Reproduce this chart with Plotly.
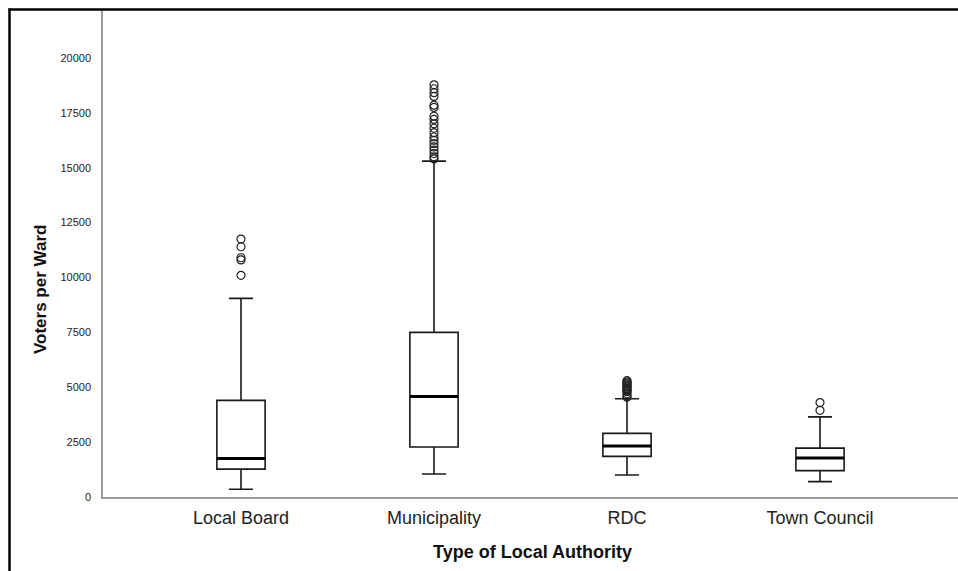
import plotly.graph_objects as go

categories = ["Local Board", "Municipality", "RDC", "Town Council"]
lower_whisker = [350, 1050, 1000, 700]
q1_values = [1270, 2275, 1850, 1200]
median_values = [1750, 4575, 2325, 1775]
q3_values = [4400, 7500, 2900, 2225]
upper_whisker = [9050, 15300, 4475, 3650]

outliers_local_board = [11750, 11400, 10900, 10800, 10100]
outliers_municipality = [18780, 18600, 18420, 18250, 17850, 17750, 17350, 17200,
                         17000, 16800, 16600, 16400, 16250, 16100, 15950, 15800,
                         15650, 15500, 15400]
outliers_rdc = [5300, 5250, 5200, 5150, 5100, 5050, 5000, 4950, 4900, 4850,
                4800, 4700, 4600, 4550]
outliers_town_council = [4300, 3950]

y_ticks = [0, 2500, 5000, 7500, 10000, 12500, 15000, 17500, 20000]

fig = go.Figure()

# main boxes
fig.add_trace(go.Box(
    x=categories,
    q1=q1_values, median=median_values, q3=q3_values,
    lowerfence=lower_whisker, upperfence=upper_whisker,
    width=0.25, whiskerwidth=0.5,
    fillcolor="white",
    line=dict(color="#1a1a1a", width=1.6),
    boxpoints=False, hoverinfo="skip", showlegend=False,
))

# thick median lines (degenerate boxes at the median)
fig.add_trace(go.Box(
    x=categories,
    q1=median_values, median=median_values, q3=median_values,
    lowerfence=median_values, upperfence=median_values,
    width=0.25, whiskerwidth=0,
    fillcolor="rgba(0,0,0,0)",
    line=dict(color="#000000", width=3),
    boxpoints=False, hoverinfo="skip", showlegend=False,
))

out_x, out_y = [], []
for cat, vals in zip(categories, [outliers_local_board, outliers_municipality,
                                  outliers_rdc, outliers_town_council]):
    out_x += [cat] * len(vals)
    out_y += vals

fig.add_trace(go.Scatter(
    x=out_x, y=out_y, mode="markers",
    marker=dict(symbol="circle-open", size=8, color="#222222",
                line=dict(width=1.2, color="#222222")),
    hoverinfo="skip", showlegend=False,
))

W, H = 958, 571
plot_left, plot_right, plot_top, plot_bottom = 103, 958, 10, 497
pw = plot_right - plot_left
ph = plot_bottom - plot_top


def px_x(x):
    return (x - plot_left) / pw


def px_y(y):
    return (plot_bottom - y) / ph


fig.update_layout(
    width=W, height=H,
    margin=dict(l=plot_left, r=W - plot_right, t=plot_top, b=H - plot_bottom, pad=0),
    paper_bgcolor="white", plot_bgcolor="white",
    boxmode="overlay",
    font=dict(family="Liberation Sans, Arial, sans-serif", color="#222222"),
    xaxis=dict(
        type="category", categoryorder="array", categoryarray=categories,
        range=[-0.715, 3.715],
        showline=True, linecolor="#999999", linewidth=2,
        showgrid=False, zeroline=False, ticks="",
        ticklabelstandoff=3,
        tickfont=dict(size=18, color="#222222"),
    ),
    yaxis=dict(
        range=[0, 22187],
        tickvals=y_ticks, tickformat="d",
        showline=True, linecolor="#999999", linewidth=1.5,
        showgrid=False, zeroline=False, ticks="",
        ticklabelstandoff=8,
        tickfont=dict(size=11, color="#222222"),
    ),
    annotations=[
        dict(text="<b>Voters per Ward</b>", xref="paper", yref="paper",
             x=px_x(40), y=px_y(290),
             xanchor="center", yanchor="middle", textangle=-90,
             showarrow=False, font=dict(size=17, color="#111111")),
        dict(text="<b>Type of Local Authority</b>", xref="paper", yref="paper",
             x=px_x(532), y=px_y(552),
             xanchor="center", yanchor="middle",
             showarrow=False, font=dict(size=18, color="#111111")),
    ],
    shapes=[
        dict(type="line", xref="paper", yref="paper",
             x0=px_x(9.5), x1=px_x(9.5),
             y0=px_y(600), y1=px_y(8.5),
             line=dict(color="black", width=2.5)),
        dict(type="line", xref="paper", yref="paper",
             x0=px_x(8.5), x1=1.05,
             y0=px_y(9.5), y1=px_y(9.5),
             line=dict(color="black", width=2.5)),
    ],
)

fig.write_html(
    "out.html",
    config={"displayModeBar": False},
    post_script="document.body.style.margin='0';document.body.style.overflow='hidden';",
)
